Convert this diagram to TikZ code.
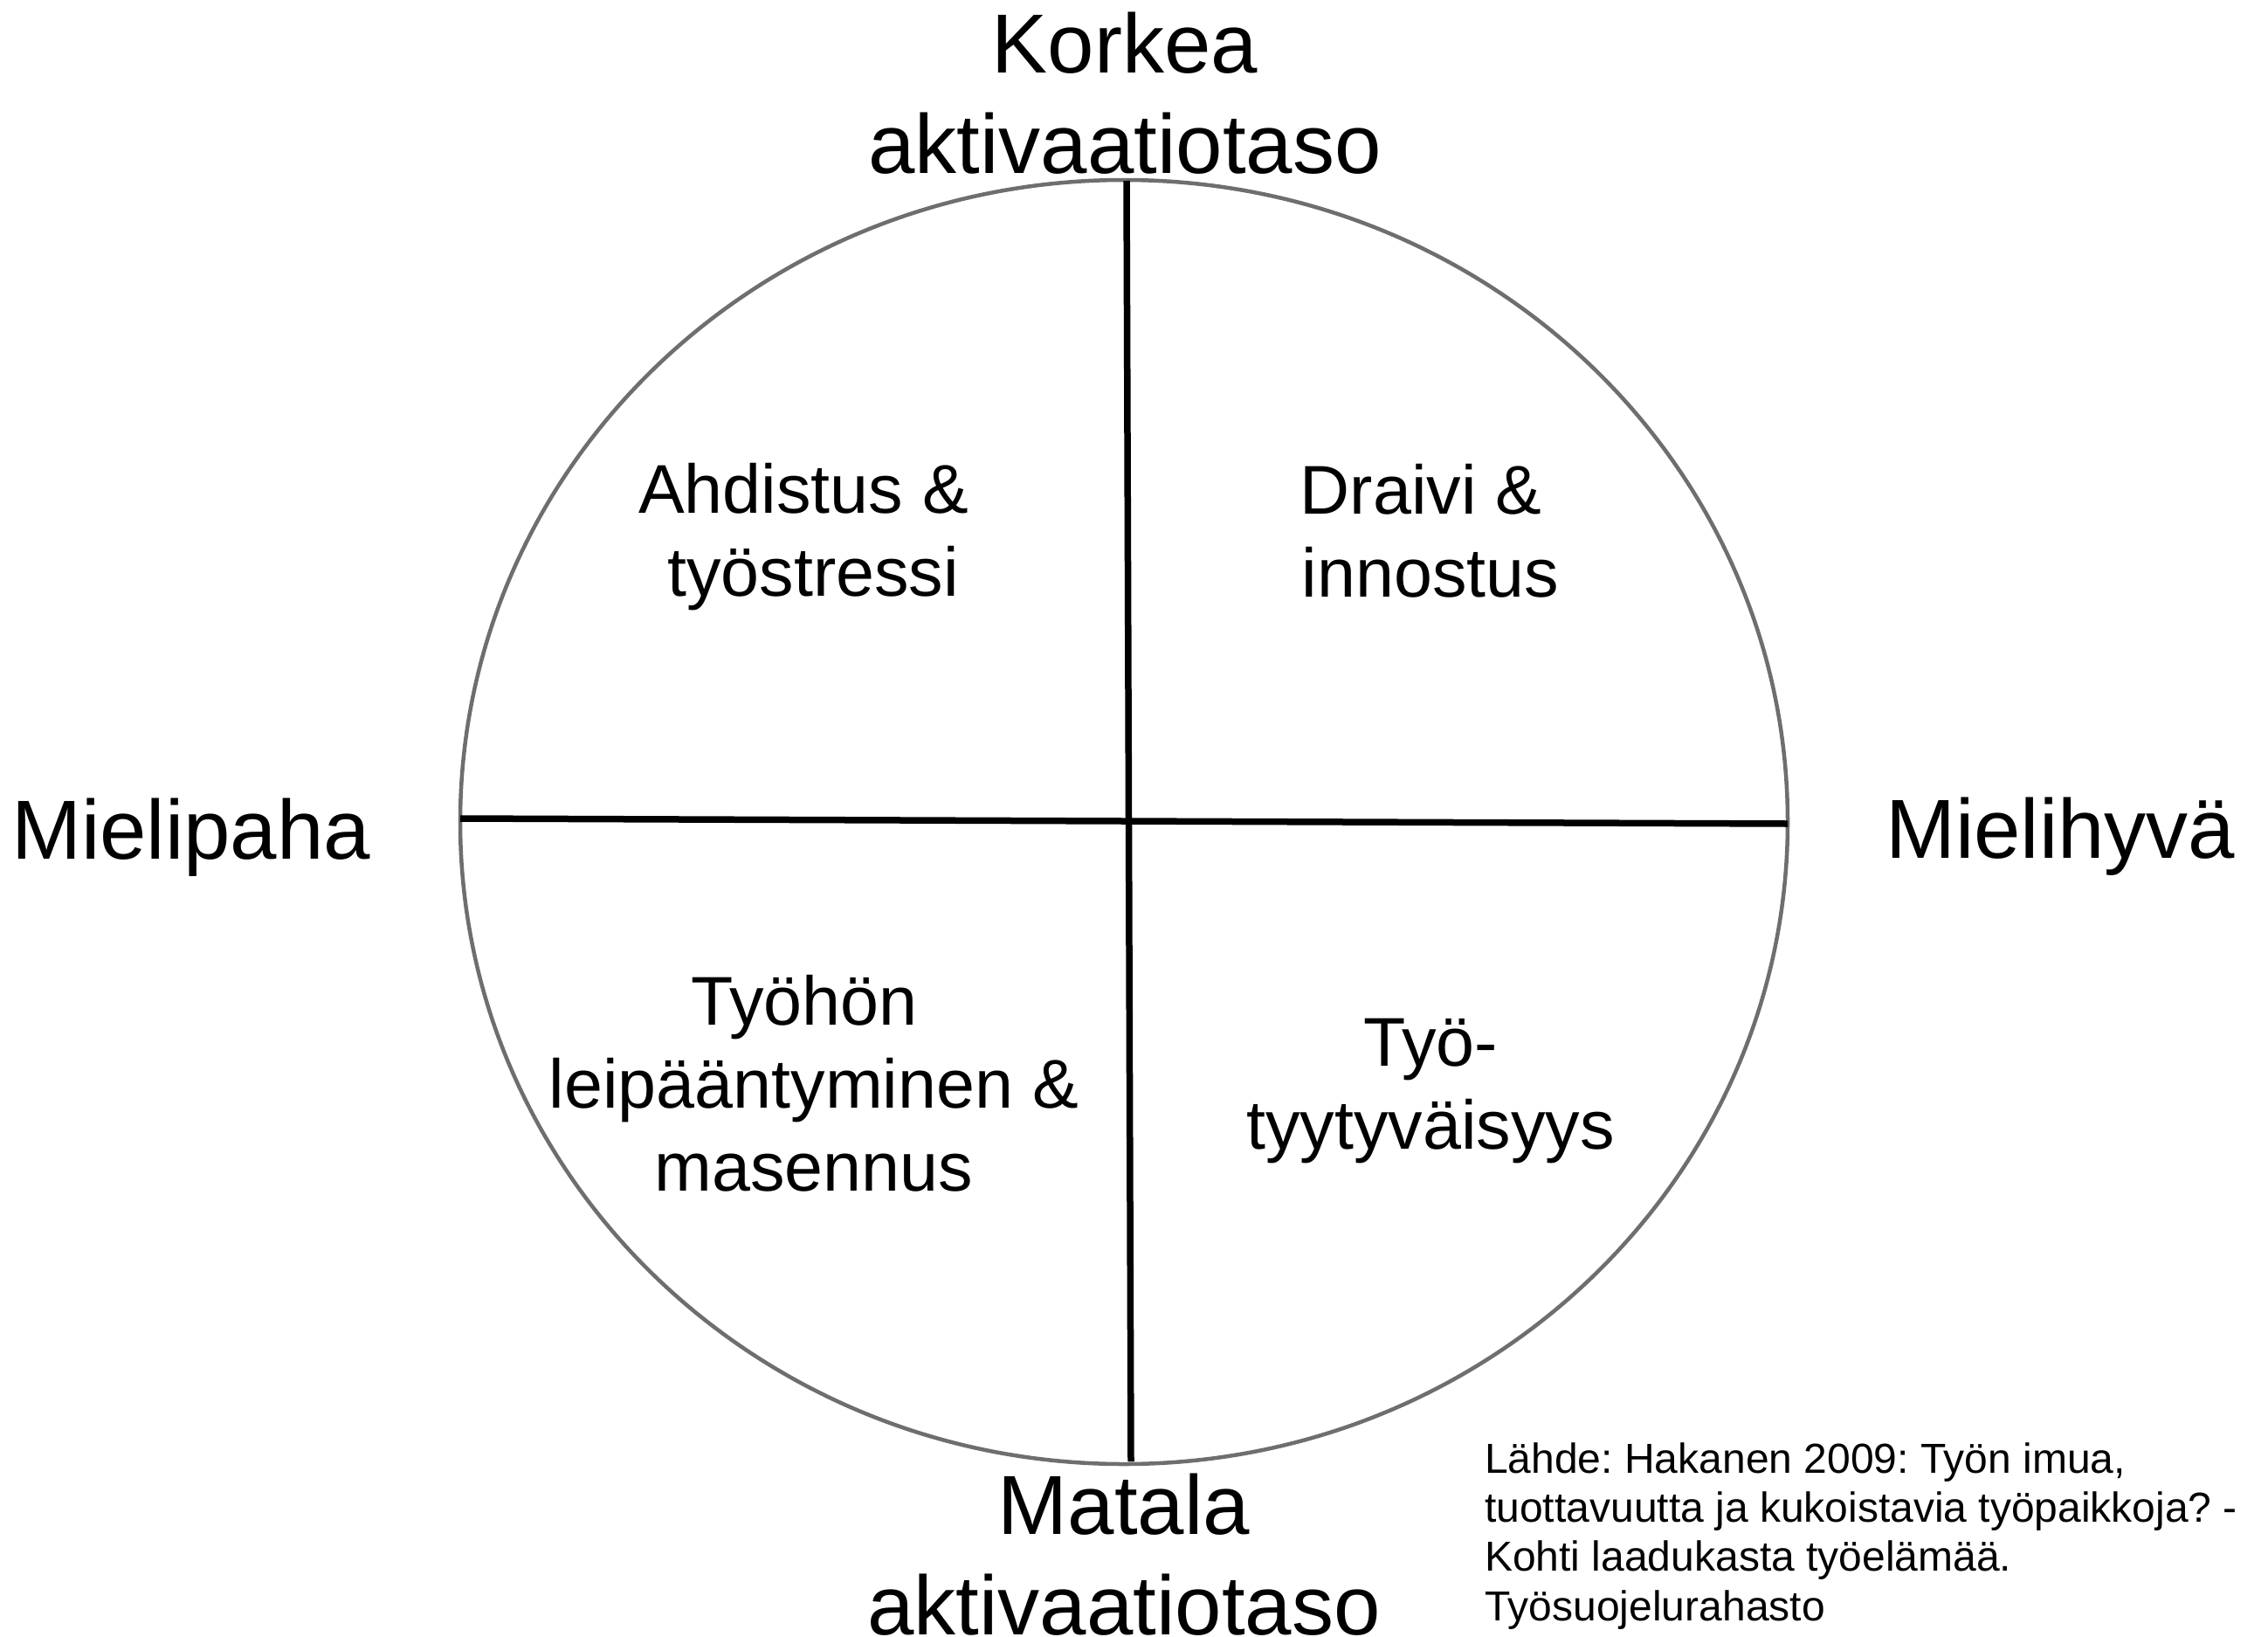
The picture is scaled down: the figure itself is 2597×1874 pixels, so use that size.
\documentclass[tikz,border=0pt]{standalone}
\usepackage{fontspec}
\setmainfont{Liberation Sans}
\frenchspacing
\usetikzlibrary{shapes.geometric}
\begin{document}
\begin{tikzpicture}[x=1pt,y=-1pt,
  axisline/.style={line width=7.5pt,black},
  bigtxt/.style={inner sep=0pt,anchor=base,align=center,font=\fontsize{96}{115}\selectfont},
  quadtxt/.style={inner sep=0pt,anchor=base,align=center,font=\fontsize{79}{95}\selectfont},
  srctxt/.style={inner sep=0pt,anchor=base west,align=left,font=\fontsize{48}{56.3}\selectfont\frenchspacing}]
\useasboundingbox (0,0) rectangle (2597,1874);
% circle
\node[draw=black!57,line width=4.5pt,ellipse,minimum width=1520pt,minimum height=1470pt,inner sep=0pt] (circ) at (1287,941) {};
% axes
\coordinate (top) at (1290,207);
\coordinate (bot) at (1295,1673);
\coordinate (lft) at (527,937);
\coordinate (rgt) at (2047,943);
\draw[axisline] (top) -- (bot);
\draw[axisline] (lft) -- (rgt);
% axis labels (anchor = baseline of last line)
\node[bigtxt] (high) at (1288,198) {Korkea\\aktivaatiotaso};
\node[bigtxt] (low) at (1287,1871) {Matala\\aktivaatiotaso};
\node[bigtxt,anchor=base west] (neg) at (13,983) {Mielipaha};
\node[bigtxt,anchor=base west] (pos) at (2159,982) {Mielihyvä};
% quadrants
\node[quadtxt] (q1) at (931,682) {Ahdistus \&\hspace*{0.278em}\\työstressi};
\node[quadtxt] (q2) at (1638,683) {Draivi \&\hspace*{0.278em}\\innostus};
\node[quadtxt] (q3) at (932,1363) {Työhön\hspace*{0.278em}\\leipääntyminen \&\hspace*{0.278em}\\masennus};
\node[quadtxt] (q4) at (1638,1315) {Työ-\\tyytyväisyys};
% source
\node[srctxt] (src) at (1700,1855) {Lähde: Hakanen 2009: Työn imua,\\tuottavuutta ja kukoistavia työpaikkoja? -\\Kohti laadukasta työelämää.\\Työsuojelurahasto};
\end{tikzpicture}
\end{document}
